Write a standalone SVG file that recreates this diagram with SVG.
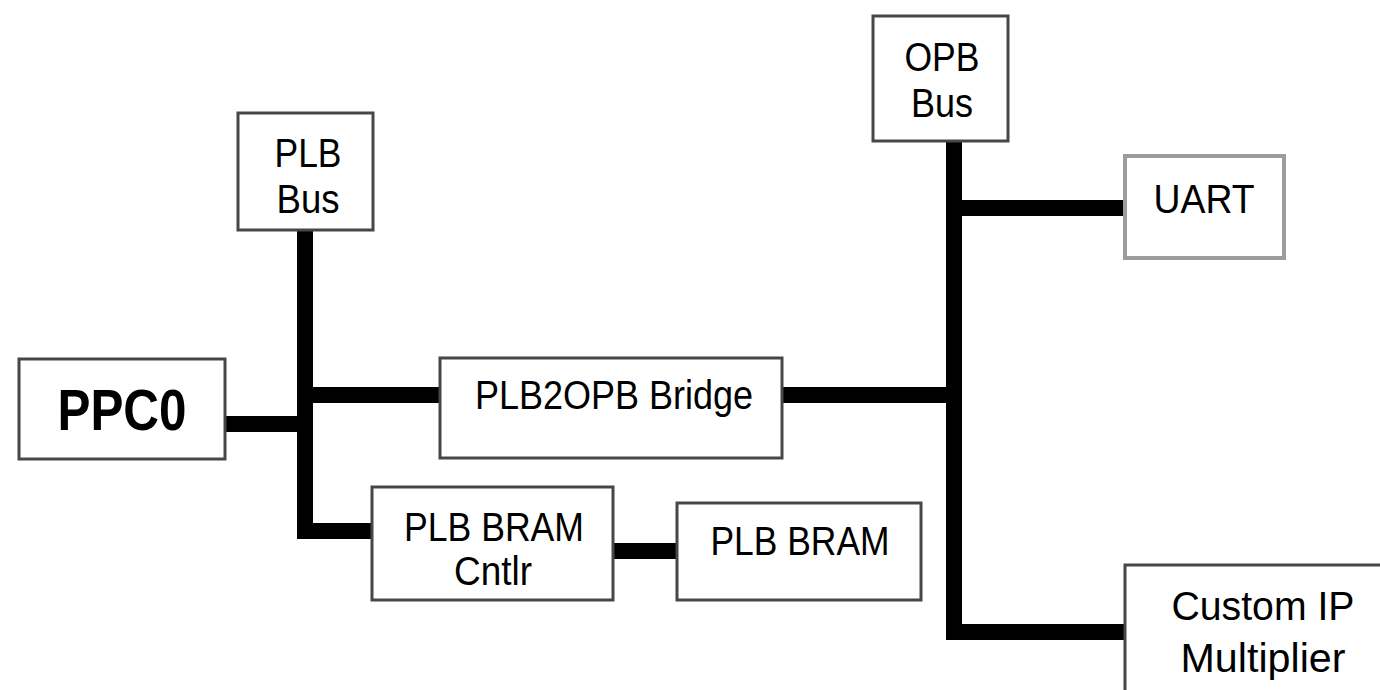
<svg xmlns="http://www.w3.org/2000/svg" width="1380" height="690" viewBox="0 0 1380 690">
<style>
.box{fill:#fff;stroke:#474747;stroke-width:3}
.lbox{fill:#fff;stroke:#9c9c9c;stroke-width:4}
.t{font-family:"Liberation Sans",Arial,sans-serif;font-size:41px;fill:#000;text-anchor:middle}
.b{font-weight:bold;font-size:57px}
.w{fill:none;stroke:#000;stroke-width:16;stroke-linejoin:miter;stroke-linecap:butt}
</style>
<rect width="1380" height="690" fill="#fff"/>
<g id="connectors">
<path class="w" d="M225,424 H305"/>
<path class="w" d="M305,230 V531 H372"/>
<path class="w" d="M305,395 H440"/>
<path class="w" d="M782,395 H954"/>
<path class="w" d="M954,141 V632 H1125"/>
<path class="w" d="M954,208 H1125"/>
<path class="w" d="M613,551 H677"/>
</g>
<g id="ppc0">
<rect class="box" x="19" y="359" width="206" height="100"/>
<text class="t b" x="122" y="430" textLength="129" lengthAdjust="spacingAndGlyphs">PPC0</text>
</g>
<g id="plb-bus">
<rect class="box" x="238" y="113" width="135" height="117"/>
<text class="t" x="308" y="167" textLength="67" lengthAdjust="spacingAndGlyphs">PLB</text>
<text class="t" x="308" y="213" textLength="63" lengthAdjust="spacingAndGlyphs">Bus</text>
</g>
<g id="bridge">
<rect class="box" x="440" y="358" width="342" height="100"/>
<text class="t" x="614" y="409" textLength="278" lengthAdjust="spacingAndGlyphs">PLB2OPB Bridge</text>
</g>
<g id="bram-cntlr">
<rect class="box" x="372" y="487" width="241" height="113"/>
<text class="t" x="494" y="541" textLength="180" lengthAdjust="spacingAndGlyphs">PLB BRAM</text>
<text class="t" x="493" y="585" textLength="78" lengthAdjust="spacingAndGlyphs">Cntlr</text>
</g>
<g id="bram">
<rect class="box" x="677" y="503" width="244" height="97"/>
<text class="t" x="800" y="555" textLength="179" lengthAdjust="spacingAndGlyphs">PLB BRAM</text>
</g>
<g id="opb-bus">
<rect class="box" x="873" y="16" width="135" height="125"/>
<text class="t" x="942" y="71" textLength="75" lengthAdjust="spacingAndGlyphs">OPB</text>
<text class="t" x="942" y="117" textLength="62" lengthAdjust="spacingAndGlyphs">Bus</text>
</g>
<g id="uart">
<rect class="lbox" x="1125" y="156" width="159" height="102"/>
<text class="t" x="1204" y="213" textLength="101" lengthAdjust="spacingAndGlyphs">UART</text>
</g>
<g id="custom-ip">
<rect class="box" x="1125" y="565" width="300" height="200"/>
<text class="t" x="1263" y="620" textLength="183" lengthAdjust="spacingAndGlyphs">Custom IP</text>
<text class="t" x="1263" y="672" textLength="165" lengthAdjust="spacingAndGlyphs">Multiplier</text>
</g>
</svg>
